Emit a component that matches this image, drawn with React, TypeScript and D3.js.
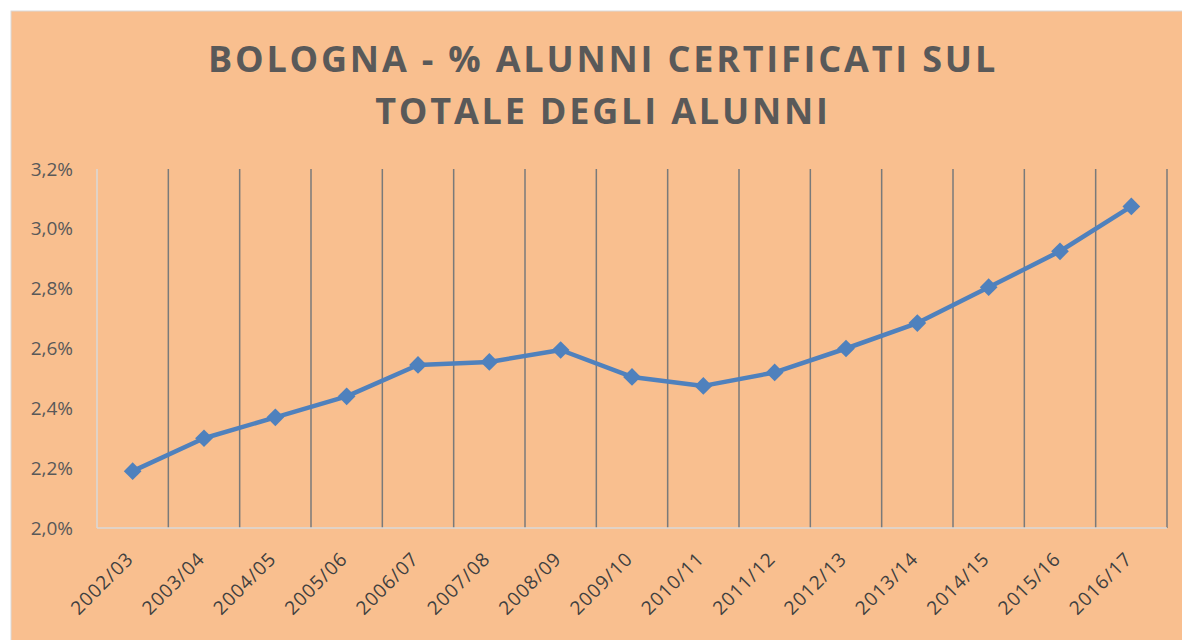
import React from 'react';
import * as d3 from 'd3';

const categories = [
  '2002/03', '2003/04', '2004/05', '2005/06', '2006/07', '2007/08', '2008/09', '2009/10',
  '2010/11', '2011/12', '2012/13', '2013/14', '2014/15', '2015/16', '2016/17'
];
const values = [
  2.19, 2.30, 2.37, 2.44, 2.545, 2.555, 2.595, 2.505,
  2.475, 2.52, 2.60, 2.685, 2.805, 2.925, 3.075
];
const yTicks = [2.0, 2.2, 2.4, 2.6, 2.8, 3.0, 3.2];
const titleLines = ['BOLOGNA - % ALUNNI CERTIFICATI SUL', 'TOTALE DEGLI ALUNNI'];

const W = 1182;
const H = 640;
const margin = { top: 169, right: 15, bottom: 112, left: 97 };

const App: React.FC = () => {
  const plotW = W - margin.left - margin.right;
  const plotH = H - margin.top - margin.bottom;

  const x = d3.scaleBand<string>().domain(categories).range([0, plotW]);
  const y = d3.scaleLinear().domain([2.0, 3.2]).range([plotH, 0]);
  const cx = (c: string) => (x(c) ?? 0) + x.bandwidth() / 2;

  const line = d3.line<number>()
    .x((_, i) => cx(categories[i]))
    .y(d => y(d));

  const fmt = (v: number) => v.toFixed(1).replace('.', ',') + '%';
  const diamond = d3.symbol().type(d3.symbolDiamond2).size(200)() ?? '';

  // grid lines at category boundaries
  const bounds = categories.map(c => x(c) ?? 0).concat([plotW]);

  return (
    <svg width={W} height={H} style={{ position: 'absolute', left: 0, top: 0 }}
      fontFamily="'Open Sans', sans-serif">
      <rect x={0} y={0} width={W} height={H} fill="#ffffff" />
      <rect x={11} y={11} width={W} height={H} fill="#F9BF8F" stroke="#d9d9d9" strokeWidth={1} />

      {titleLines.map((t, i) => (
        <text key={t} x={603} y={72 + i * 52} textAnchor="middle" fontSize={36}
          fontWeight="bold" fill="#595959" letterSpacing={2.8}>
          {t}
        </text>
      ))}

      <g transform={`translate(${margin.left},${margin.top})`}>
        {bounds.map((b, i) => (
          <line key={i} x1={b} x2={b} y1={0} y2={plotH}
            stroke={i === 0 ? '#d9d9d9' : '#7a7a7a'} strokeWidth={1.5} />
        ))}
        <line x1={0} x2={plotW} y1={plotH} y2={plotH} stroke="#d9d9d9" strokeWidth={1.5} />

        {yTicks.map(t => (
          <text key={t} x={-24} y={y(t)} dy="0.35em" textAnchor="end" fontSize={19} fill="#595959">
            {fmt(t)}
          </text>
        ))}

        {categories.map(c => (
          <text key={c} transform={`translate(${cx(c) + 2},${plotH + 32}) rotate(-45)`}
            textAnchor="end" fontSize={19} fill="#404040" letterSpacing={1}>
            {c}
          </text>
        ))}

        <path d={line(values) ?? ''} fill="none" stroke="#4F81BD" strokeWidth={4.5}
          strokeLinejoin="round" />
        {values.map((v, i) => (
          <path key={i} d={diamond} transform={`translate(${cx(categories[i])},${y(v)})`}
            fill="#4F81BD" />
        ))}
      </g>
    </svg>
  );
};

export default App;
